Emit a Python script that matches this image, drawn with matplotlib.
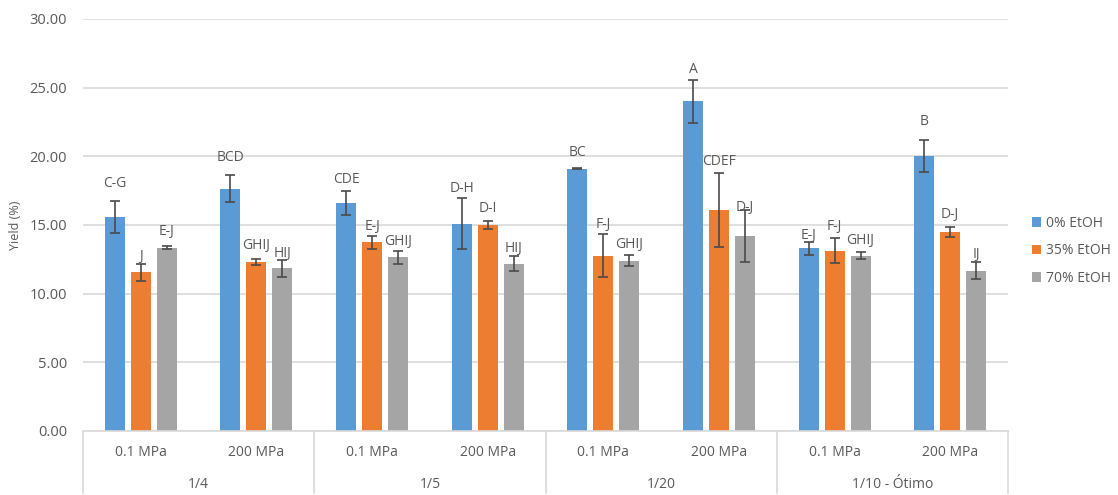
import numpy as np
import matplotlib.pyplot as plt

plt.rcParams['font.family'] = ['Open Sans', 'DejaVu Sans']

ratios = ['1/4', '1/5', '1/20', '1/10 - Ótimo']
pressures = ['0.1 MPa', '200 MPa']
series = ['0% EtOH', '35% EtOH', '70% EtOH']

# yield (%) per condition, order: 1/4 0.1, 1/4 200, 1/5 0.1, 1/5 200, 1/20 0.1, 1/20 200, 1/10 0.1, 1/10 200
etoh0 = [15.58, 17.65, 16.60, 15.08, 19.10, 24.01, 13.30, 20.03]
etoh35 = [11.56, 12.31, 13.74, 15.00, 12.77, 16.12, 13.13, 14.47]
etoh70 = [13.35, 11.85, 12.65, 12.19, 12.40, 14.18, 12.75, 11.68]

err0 = [1.17, 1.00, 0.89, 1.86, 0.02, 1.55, 0.45, 1.19]
err35 = [0.62, 0.25, 0.47, 0.30, 1.54, 2.69, 0.89, 0.36]
err70 = [0.13, 0.63, 0.47, 0.52, 0.40, 1.88, 0.25, 0.60]

letters0 = ['C-G', 'BCD', 'CDE', 'D-H', 'BC', 'A', 'E-J', 'B']
letters35 = ['J', 'GHIJ', 'E-J', 'D-I', 'F-J', 'CDEF', 'F-J', 'D-J']
letters70 = ['E-J', 'HIJ', 'GHIJ', 'HIJ', 'GHIJ', 'D-J', 'GHIJ', 'IJ']

colors = ['#5B9BD5', '#ED7D31', '#A5A5A5']
text_col = '#595959'
line_col = '#D9D9D9'

# label height above the bar top, in pixels
label_off = [
    [34, 31, 24, 35, 16, 32, 13, 34],
    [16, 16, 16, 16, 31, 48, 24, 18],
    [16, 15, 16, 15, 16, 29, 15, 16],
]

fig = plt.figure(figsize=(11.18, 4.95), dpi=100)
ax = fig.add_axes([83 / 1118, 1 - 431 / 495, (1008 - 83) / 1118, (431 - 19) / 495])

n = len(etoh0)
x = np.arange(n) + 0.5
step = 0.225
width = 0.173

vals = [etoh0, etoh35, etoh70]
errs = [err0, err35, err70]
labs = [letters0, letters35, letters70]
for i in range(3):
    xi = x + (i - 1) * step
    ax.bar(xi, vals[i], width, color=colors[i], label=series[i], zorder=2)
    ax.errorbar(xi, vals[i], yerr=errs[i], fmt='none', ecolor='#4a4a4a',
                elinewidth=1.2, capsize=3.5, capthick=1.2, zorder=3)
    for j in range(n):
        ax.annotate(labs[i][j], (xi[j], vals[i][j]), xytext=(0, label_off[i][j]),
                    textcoords='offset pixels', ha='center', va='center',
                    fontsize=10, color=text_col, zorder=4)

ax.set_xlim(0, n)
ax.set_ylim(0, 30)
ax.set_yticks(np.arange(0, 31, 5))
ax.set_yticklabels(['%.2f' % v for v in np.arange(0, 31, 5)], fontsize=10.5, color=text_col)
ax.tick_params(axis='y', length=0, pad=11.5)
ax.set_xticks([])
ax.yaxis.grid(True, color=line_col, lw=1.2, zorder=0)
for s in ['top', 'right', 'left']:
    ax.spines[s].set_visible(False)
ax.spines['bottom'].set_color(line_col)
ax.spines['bottom'].set_linewidth(1.2)
ax.set_ylabel('Yield (%)', fontsize=9, color=text_col)
ax.yaxis.set_label_coords(-0.066, 0.5)

# two-level category axis below the plot
trans = ax.get_xaxis_transform()
for k in range(len(ratios) + 1):
    ax.plot([2 * k, 2 * k], [0, -62 / 412], transform=trans, color=line_col,
            lw=1.2, clip_on=False)
for j in range(n):
    ax.text(x[j], -22 / 412, pressures[j % 2], transform=trans, ha='center',
            va='center', fontsize=10, color=text_col)
for k, r in enumerate(ratios):
    ax.text(2 * k + 1, -53 / 412, r, transform=trans, ha='center', va='center',
            fontsize=10, color=text_col)

leg = ax.legend(loc='center left', bbox_to_anchor=(1.012, 0.437), frameon=False,
                fontsize=10, handlelength=0.7, handleheight=0.7, handletextpad=0.35,
                labelspacing=0.9, labelcolor=text_col)

fig.savefig('out.png', dpi=100)
